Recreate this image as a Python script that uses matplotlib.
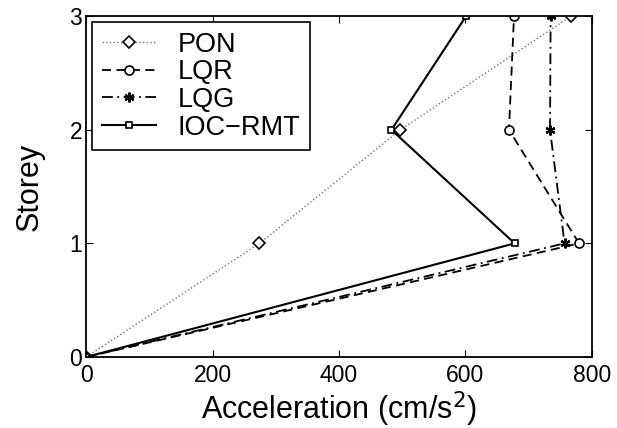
import matplotlib
matplotlib.use("Agg")
import matplotlib.pyplot as plt

storey = [0, 1, 2, 3]
pon = [0, 274, 497, 767]
lqr = [0, 780, 669, 677]
lqg = [0, 757, 734, 735]
ioc = [0, 678, 483, 601]
labels = ["PON", "LQR", "LQG", "IOC\u2212RMT"]
xticks = [0, 200, 400, 600, 800]
yticks = [0, 1, 2, 3]

plt.rcParams['font.family'] = ['Liberation Sans', 'DejaVu Sans']
fig = plt.figure(figsize=(6.17, 4.28), dpi=100)
ax = fig.add_axes([0.140, 0.166, 0.819, 0.796])

ax.plot(pon, storey, linestyle=':', color='#777777', lw=1.0, marker='D', ms=6,
        mfc='white', mec='black', mew=1.2, label=labels[0])
ax.plot(lqr, storey, linestyle=(0, (5, 3)), color='black', lw=1.3, marker='o', ms=6.5,
        mfc='white', mec='black', mew=1.2, label=labels[1])
ax.plot(lqg, storey, linestyle=(0, (6, 2.5, 1, 2.5)), color='black', lw=1.3, marker=(6, 2, 0), ms=7,
        mfc='black', mec='black', mew=1.6, label=labels[2])
ax.plot(ioc, storey, linestyle='-', color='black', lw=1.5, marker='s', ms=5,
        mfc='white', mec='black', mew=1.2, label=labels[3])

ax.set_xlim(0, 800)
ax.set_ylim(0, 3)
ax.set_xticks(xticks)
ax.set_yticks(yticks)
ax.tick_params(direction='in', top=True, right=True, labelsize=16.5, length=5)
ax.tick_params(axis='x', pad=5)
ax.tick_params(axis='y', pad=3)
for s in ax.spines.values():
    s.set_linewidth(1.3)
ax.set_xlabel("Acceleration (cm/s$^2$)", fontsize=22, labelpad=2)
ax.set_ylabel("Storey", fontsize=22, labelpad=18)

leg = ax.legend(loc='upper left', fontsize=19.5, frameon=True, fancybox=False,
                edgecolor='black', framealpha=1, borderaxespad=0.22,
                handlelength=2.0, labelspacing=0.06, borderpad=0.35, handletextpad=0.8)
leg.get_frame().set_linewidth(1.2)

fig.savefig("out.png", dpi=100)
